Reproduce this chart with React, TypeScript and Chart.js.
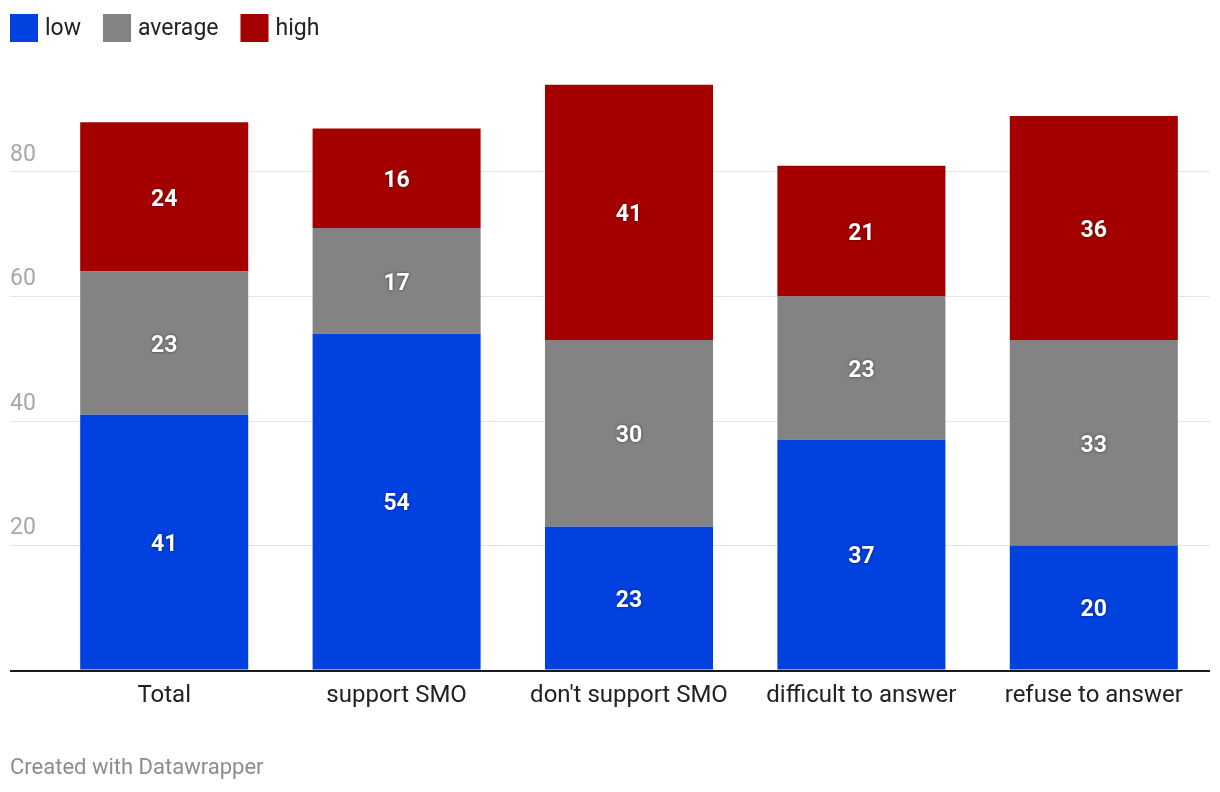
import React, { useEffect, useRef } from "react";
import { Chart, registerables } from "chart.js";

Chart.register(...registerables);

const categories = ["Total", "support SMO", "don't support SMO", "difficult to answer", "refuse to answer"];
const lowValues = [41, 54, 23, 37, 20];
const averageValues = [23, 17, 30, 23, 33];
const highValues = [24, 16, 41, 21, 36];
const seriesNames = ["low", "average", "high"];
const seriesColors = ["#0041e0", "#838383", "#a50000"];
const yMax = 100;
const yStep = 20;
const footerText = "Created with Datawrapper";

const FONT = "Roboto, 'Noto Sans', sans-serif";

const overlayPlugin = {
  id: "overlay",
  afterDatasetsDraw(chart: any) {
    const ctx = chart.ctx;
    const yScale = chart.scales.y;
    ctx.save();
    // baseline
    const yb = yScale.getPixelForValue(0);
    ctx.strokeStyle = "#1a1a1a";
    ctx.lineWidth = 2;
    ctx.beginPath();
    ctx.moveTo(yScale.left, yb + 1);
    ctx.lineTo(chart.chartArea.right, yb + 1);
    ctx.stroke();
    // value labels
    ctx.font = `bold 23px ${FONT}`;
    ctx.textAlign = "center";
    ctx.textBaseline = "middle";
    ctx.fillStyle = "#ffffff";
    ctx.shadowColor = "rgba(0,0,0,0.55)";
    ctx.shadowBlur = 3;
    chart.data.datasets.forEach((ds: any, di: number) => {
      const meta = chart.getDatasetMeta(di);
      meta.data.forEach((el: any, i: number) => {
        const p = el.getProps(["x", "y", "base"], true);
        ctx.fillText(String(ds.data[i]), p.x, (p.y + p.base) / 2 + 3);
      });
    });
    ctx.restore();
  },
  afterDraw(chart: any) {
    const ctx = chart.ctx;
    ctx.save();
    ctx.font = `23px ${FONT}`;
    ctx.textBaseline = "middle";
    ctx.textAlign = "left";
    let x = 10;
    chart.data.datasets.forEach((ds: any) => {
      ctx.fillStyle = ds.backgroundColor;
      ctx.fillRect(x, 14, 28, 28);
      ctx.fillStyle = "#222222";
      const tx = x + 35;
      ctx.fillText(ds.label, tx, 29);
      x = tx + ctx.measureText(ds.label).width + 22;
    });
    ctx.restore();
  },
};

export default function App() {
  const canvasRef = useRef<HTMLCanvasElement | null>(null);

  useEffect(() => {
    if (!canvasRef.current) return;
    const seriesData = [lowValues, averageValues, highValues];
    const chart = new Chart(canvasRef.current, {
      type: "bar",
      data: {
        labels: categories,
        datasets: seriesNames.map((name, i) => ({
          label: name,
          data: seriesData[i],
          backgroundColor: seriesColors[i],
          borderWidth: 0,
          barPercentage: 0.723,
          categoryPercentage: 1,
        })),
      },
      options: {
        animation: false,
        responsive: true,
        maintainAspectRatio: false,
        layout: { padding: { top: 47.5, left: 10, right: 10, bottom: 0 } },
        plugins: {
          legend: { display: false },
          tooltip: { enabled: false },
          title: {
            display: true,
            position: "bottom",
            align: "start",
            text: footerText,
            color: "#8c8c8c",
            font: { family: FONT, size: 22, weight: "normal" },
            padding: { top: 0, bottom: 10.8 },
          },
        },
        scales: {
          x: {
            stacked: true,
            grid: { display: false, drawTicks: false },
            border: { display: false },
            ticks: {
              color: "#222222",
              font: { family: FONT, size: 24 },
              padding: 12,
              maxRotation: 0,
              autoSkip: false,
            },
            afterFit: (s: any) => {
              s.height = 84.8;
            },
          },
          y: {
            stacked: true,
            min: 0,
            max: yMax,
            border: { display: false },
            grid: {
              drawTicks: true,
              tickLength: 38,
              color: (c: any) =>
                c.tick && (c.tick.value === 0 || c.tick.value === yMax) ? "rgba(0,0,0,0)" : "#e4e4e4",
              lineWidth: 1,
            },
            ticks: {
              stepSize: yStep,
              crossAlign: "far",
              padding: 0,
              labelOffset: -17,
              color: "#a8a8a8",
              font: { family: FONT, size: 23 },
              callback: (v: any) => (v === 0 || v === yMax ? "" : String(v)),
            },
            afterFit: (s: any) => {
              s.width = 38;
            },
          },
        },
      } as any,
      plugins: [overlayPlugin],
    });
    return () => chart.destroy();
  }, []);

  return (
    <div style={{ position: "absolute", left: 0, top: 0, width: 1220, height: 792, background: "#fff" }}>
      <canvas ref={canvasRef} />
    </div>
  );
}
